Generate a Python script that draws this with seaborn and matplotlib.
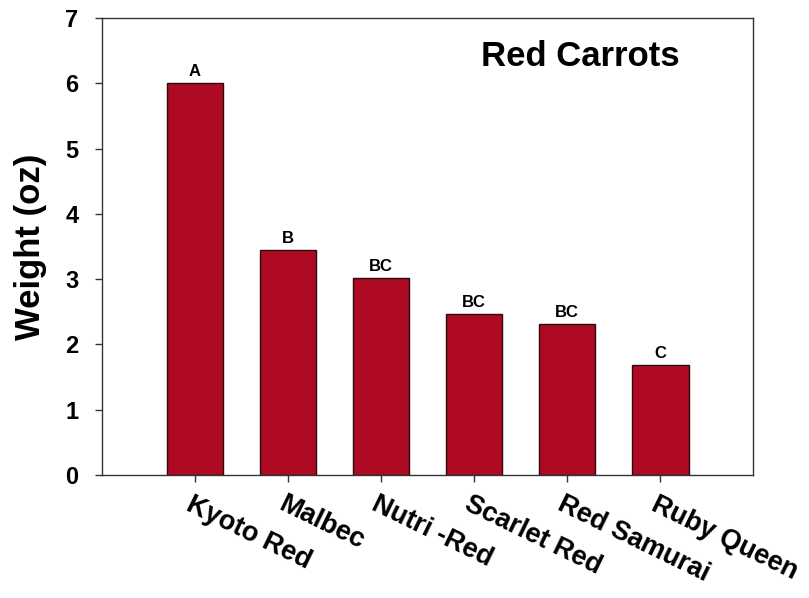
import matplotlib
matplotlib.use("Agg")
import matplotlib.pyplot as plt
import matplotlib.transforms as mtransforms
import seaborn as sns
import pandas as pd

varieties = ["Kyoto Red", "Malbec", "Nutri -Red", "Scarlet Red", "Red Samurai", "Ruby Queen"]
weight_oz = [6.00, 3.45, 3.02, 2.47, 2.31, 1.68]
groups = ["A", "B", "BC", "BC", "BC", "C"]
y_ticks = [0, 1, 2, 3, 4, 5, 6, 7]

sns.set_theme(style="ticks")
plt.rcParams["font.family"] = ["Liberation Sans", "DejaVu Sans"]
plt.rcParams["font.weight"] = "bold"
plt.rcParams["text.color"] = "black"
plt.rcParams["axes.labelcolor"] = "black"
plt.rcParams["xtick.color"] = "black"
plt.rcParams["ytick.color"] = "black"

df = pd.DataFrame({"variety": varieties, "weight": weight_oz})

fig = plt.figure(figsize=(8.09, 5.98), dpi=100)
ax = fig.add_axes([0.126, 0.2057, 0.805, 0.7643])

sns.barplot(data=df, x="variety", y="weight", color="#AE0A23", saturation=1,
            width=0.61, edgecolor="#2a0a0a", linewidth=1.0, ax=ax)

ax.bar_label(ax.containers[0], labels=groups, padding=3,
             fontsize=12, fontweight="bold", color="black")

ax.set_xlim(-1, 6)
ax.set_ylim(0, 7)
ax.set_yticks(y_ticks)
ax.set_yticklabels([str(t) for t in y_ticks], fontsize=17, fontweight="bold")

for s in ax.spines.values():
    s.set_visible(True)
    s.set_linewidth(1.0)
    s.set_color("#333333")

ax.tick_params(axis="both", direction="out", length=5, width=1.0, color="#333333")
ax.tick_params(axis="y", pad=12)
ax.tick_params(axis="x", pad=4)

ax.set_xlabel("")
ax.set_ylabel("Weight (oz)", fontsize=25, fontweight="bold", labelpad=13)

ax.set_xticks(range(len(varieties)))
ax.set_xticklabels(varieties, fontsize=19.5, fontweight="bold",
                   rotation=-26, ha="left", va="top", rotation_mode="anchor")
shift = mtransforms.ScaledTranslation(-0.02, -0.04, fig.dpi_scale_trans)
for lbl in ax.get_xticklabels():
    lbl.set_transform(lbl.get_transform() + shift)

ax.text(0.735, 0.915, "Red Carrots", transform=ax.transAxes, ha="center",
        va="center", fontsize=25, fontweight="bold", color="black")

fig.savefig("out.png", dpi=100)
